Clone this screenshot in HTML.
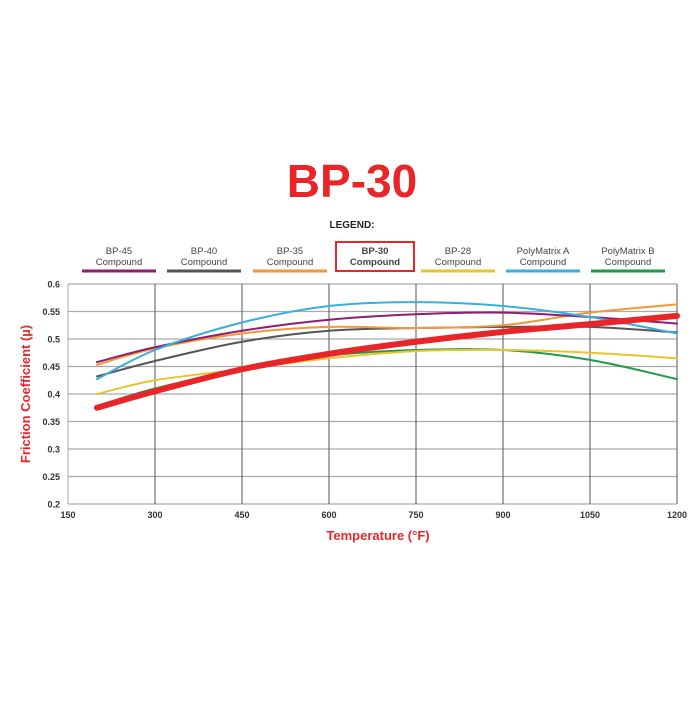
<!DOCTYPE html>
<html><head><meta charset="utf-8"><style>
body{margin:0;background:#fff;width:700px;height:700px;overflow:hidden;font-family:"Liberation Sans",sans-serif}
</style></head><body>
<svg width="700" height="700" font-family="Liberation Sans, sans-serif">
<text x="352" y="197" text-anchor="middle" font-size="46" font-weight="bold" fill="#e8262a">BP-30</text>
<text x="352" y="228" text-anchor="middle" font-size="10" font-weight="bold" fill="#222">LEGEND:</text>
<g id="legend"></g>
<g id="grid"></g>
<g id="series"></g>
<text x="378" y="540" text-anchor="middle" font-size="13" font-weight="bold" fill="#e8262a">Temperature (°F)</text>
<text transform="translate(30,394) rotate(-90)" text-anchor="middle" font-size="13" font-weight="bold" fill="#e8262a">Friction Coefficient (µ)</text>
</svg>
<script>
const xTicks=[150,300,450,600,750,900,1050,1200];
const yTicks=[0.2,0.25,0.3,0.35,0.4,0.45,0.5,0.55,0.6];
const temps=[200,300,450,600,750,900,1050,1200];
const names=["BP-45","BP-40","BP-35","BP-30","BP-28","PolyMatrix A","PolyMatrix B"];
const colors=["#8e1f6e","#555555","#f3973a","#e8262a","#e8c52a","#3aaede","#1f9a4a"];
const bp45=[0.458,0.485,0.515,0.535,0.545,0.548,0.54,0.528];
const bp40=[0.432,0.46,0.495,0.515,0.52,0.522,0.522,0.512];
const bp35=[0.453,0.483,0.51,0.522,0.52,0.525,0.548,0.563];
const bp30=[0.375,0.405,0.445,0.473,0.495,0.513,0.527,0.542];
const bp28=[0.4,0.425,0.445,0.465,0.478,0.48,0.475,0.465];
const polyA=[0.427,0.48,0.53,0.56,0.567,0.56,0.54,0.51];
const polyB=[0.378,0.41,0.445,0.47,0.48,0.48,0.462,0.427];
const seriesVals=[bp45,bp40,bp35,bp30,bp28,polyA,polyB];
const NS="http://www.w3.org/2000/svg";
const X=v=>68+(v-150)/1050*609;
const Y=v=>504-(v-0.2)/0.4*220;
function mk(t,a,p){const e=document.createElementNS(NS,t);for(const k in a)e.setAttribute(k,a[k]);p.appendChild(e);return e;}
const grid=document.getElementById('grid');
yTicks.forEach(t=>{
 const l=mk('line',{x1:68,x2:677,y1:Y(t),y2:Y(t),stroke:'#aaa','stroke-width':1.3},grid);
 
 
 const s=mk('text',{x:60,y:Y(t)+3.5,'text-anchor':'end','font-size':9,'font-weight':'bold',fill:'#333'},grid);
 s.textContent=String(t);
 
 
});
xTicks.forEach(t=>{
 const l=mk('line',{x1:X(t),x2:X(t),y1:284,y2:504,stroke:t==150?'#aaa':'#555','stroke-width':1},grid);
 
 
 const s=mk('text',{x:X(t),y:518,'text-anchor':'middle','font-size':9,'font-weight':'bold',fill:'#333'},grid);
 s.textContent=String(t);
 
 
});
function pathFor(vals){
 const p=vals.map((v,i)=>[X(temps[i]),Y(v)]);
 let d='M'+p[0][0]+','+p[0][1];
 for(let i=0;i<p.length-1;i++){
  const p0=p[i-1]||p[i],p1=p[i],p2=p[i+1],p3=p[i+2]||p2;
  d+=` C${p1[0]+(p2[0]-p0[0])/6},${p1[1]+(p2[1]-p0[1])/6} ${p2[0]-(p3[0]-p1[0])/6},${p2[1]-(p3[1]-p1[1])/6} ${p2[0]},${p2[1]}`;
 }
 return d;
}
const sg=document.getElementById('series');
const order=[6,4,1,2,0,5,3];
order.forEach(i=>{
 const e=mk('path',{d:pathFor(seriesVals[i]),fill:'none',stroke:colors[i],'stroke-width':i==3?6:2,'stroke-linecap':'round'},sg);
 
 
});
const lg=document.getElementById('legend');
const lx=[119,204,290,375,458,543,628];
names.forEach((n,i)=>{
 const g=mk('g',{},lg);
 
 
 if(i==3){mk('rect',{x:336,y:242,width:78,height:29,fill:'none',stroke:'#e8262a','stroke-width':2},g);}
 const bold=i==3;
 const t1=mk('text',{x:lx[i],y:254,'text-anchor':'middle','font-size':9.5,fill:'#444','font-weight':bold?'bold':'normal'},g);
 t1.textContent=n;
 const t2=mk('text',{x:lx[i],y:265,'text-anchor':'middle','font-size':9.5,fill:'#444','font-weight':bold?'bold':'normal'},g);
 t2.textContent='Compound';
 if(i!=3)mk('line',{x1:lx[i]-37,x2:lx[i]+37,y1:271,y2:271,stroke:colors[i],'stroke-width':3},g);
});
</script>
</body></html>
